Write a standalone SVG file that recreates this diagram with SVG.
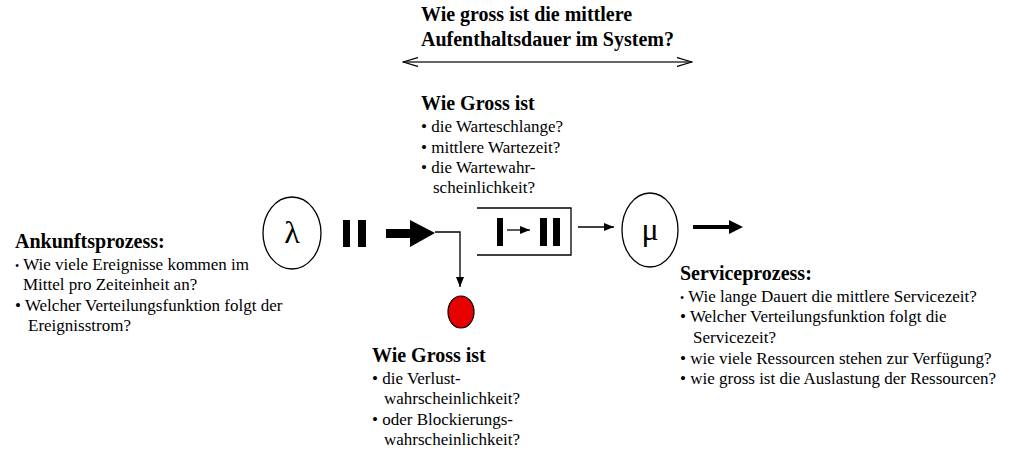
<svg xmlns="http://www.w3.org/2000/svg" width="1028" height="460" viewBox="0 0 1028 460">
<style>
text{font-family:"Liberation Serif","Times New Roman",serif;fill:#000}
.h{font-weight:bold;font-size:20px}
.t{font-size:17px}
.sb{font-size:12px}
.ln{stroke:#000;fill:none;stroke-width:1.3}
.bar{fill:#000}
</style>
<defs>
<marker id="ah" viewBox="0 0 10 10" refX="10" refY="5" markerWidth="10" markerHeight="10" markerUnits="userSpaceOnUse" orient="auto"><path d="M0,1 L10,5 L0,9 Z" fill="#000"/></marker>
<marker id="open" viewBox="0 0 16 10" refX="15" refY="5" markerWidth="16" markerHeight="10" markerUnits="userSpaceOnUse" orient="auto-start-reverse"><path d="M0,0.5 L15,5 L0,9.5" fill="none" stroke="#000" stroke-width="1.2"/></marker>
</defs>
<rect width="1028" height="460" fill="#fff"/>
<g id="title">
<text class="h" x="421" y="21">Wie gross ist die mittlere</text>
<text class="h" x="421" y="46">Aufenthaltsdauer im System?</text>
</g>
<g id="queue-text">
<text class="h" x="421" y="110">Wie Gross ist</text>
<text class="t" x="421" y="132">• die Warteschlange?</text>
<text class="t" x="421" y="153">• mittlere Wartezeit?</text>
<text class="t" x="421" y="173">• die Wartewahr-</text>
<text class="t" x="433" y="193">scheinlichkeit?</text>
</g>
<g id="arrival-text">
<text class="h" x="15" y="248">Ankunftsprozess:</text>
<text class="t" x="15" y="270"><tspan class="sb">•</tspan> Wie viele Ereignisse kommen im</text>
<text class="t" x="23" y="290">Mittel pro Zeiteinheit an?</text>
<text class="t" x="15" y="311">• Welcher Verteilungsfunktion folgt der</text>
<text class="t" x="28" y="331">Ereignisstrom?</text>
</g>
<g id="service-text">
<text class="h" x="680" y="280">Serviceprozess:</text>
<text class="t" x="680" y="302"><tspan class="sb">•</tspan> Wie lange Dauert die mittlere Servicezeit?</text>
<text class="t" x="680" y="322">• Welcher Verteilungsfunktion folgt die</text>
<text class="t" x="693" y="343">Servicezeit?</text>
<text class="t" x="680" y="364">• wie viele Ressourcen stehen zur Verfügung?</text>
<text class="t" x="680" y="384">• wie gross ist die Auslastung der Ressourcen?</text>
</g>
<g id="loss-text">
<text class="h" x="372" y="362">Wie Gross ist</text>
<text class="t" x="372" y="384">• die Verlust-</text>
<text class="t" x="384" y="404">wahrscheinlichkeit?</text>
<text class="t" x="372" y="425">• oder Blockierungs-</text>
<text class="t" x="384" y="445">wahrscheinlichkeit?</text>
</g>
<g id="lambda">
<ellipse cx="292" cy="233" rx="29" ry="36" fill="none" stroke="#000" stroke-width="1.3"/>
<text x="292" y="243" text-anchor="middle" style="font-size:32px">λ</text>
</g>
<g id="arrivals">
<rect class="bar" x="343" y="220" width="7" height="27"/>
<rect class="bar" x="358" y="220" width="8" height="27"/>
</g>
<g id="queue">
<path class="ln" d="M477,208 H571 V255 H477"/>
<rect class="bar" x="497" y="218" width="6" height="28"/>
<rect class="bar" x="540" y="218" width="7" height="28"/>
<rect class="bar" x="553" y="218" width="7" height="28"/>
<line class="ln" x1="507" y1="230" x2="530" y2="230" marker-end="url(#ah)"/>
</g>
<g id="mu">
<ellipse cx="650" cy="230" rx="28" ry="37" fill="none" stroke="#000" stroke-width="1.3"/>
<text x="650" y="240" text-anchor="middle" style="font-size:32px">μ</text>
</g>
<g id="loss">
<ellipse cx="461" cy="312" rx="13" ry="16" fill="#e60000" stroke="#000" stroke-width="1.2"/>
</g>
<g id="connectors">
<line x1="403" y1="62" x2="692" y2="62" stroke="#333" stroke-width="1.3" marker-start="url(#open)" marker-end="url(#open)"/>
<path d="M386,229 H410 V220 L435,233 L410,247 V238 H386 Z" fill="#000"/>
<path class="ln" d="M435,232 H460 V287" marker-end="url(#ah)"/>
<line class="ln" x1="578" y1="227" x2="614" y2="227" marker-end="url(#ah)"/>
<path d="M693,225 H729 V220 L743,227 L729,234 V229 H693 Z" fill="#000"/>
</g>
</svg>
